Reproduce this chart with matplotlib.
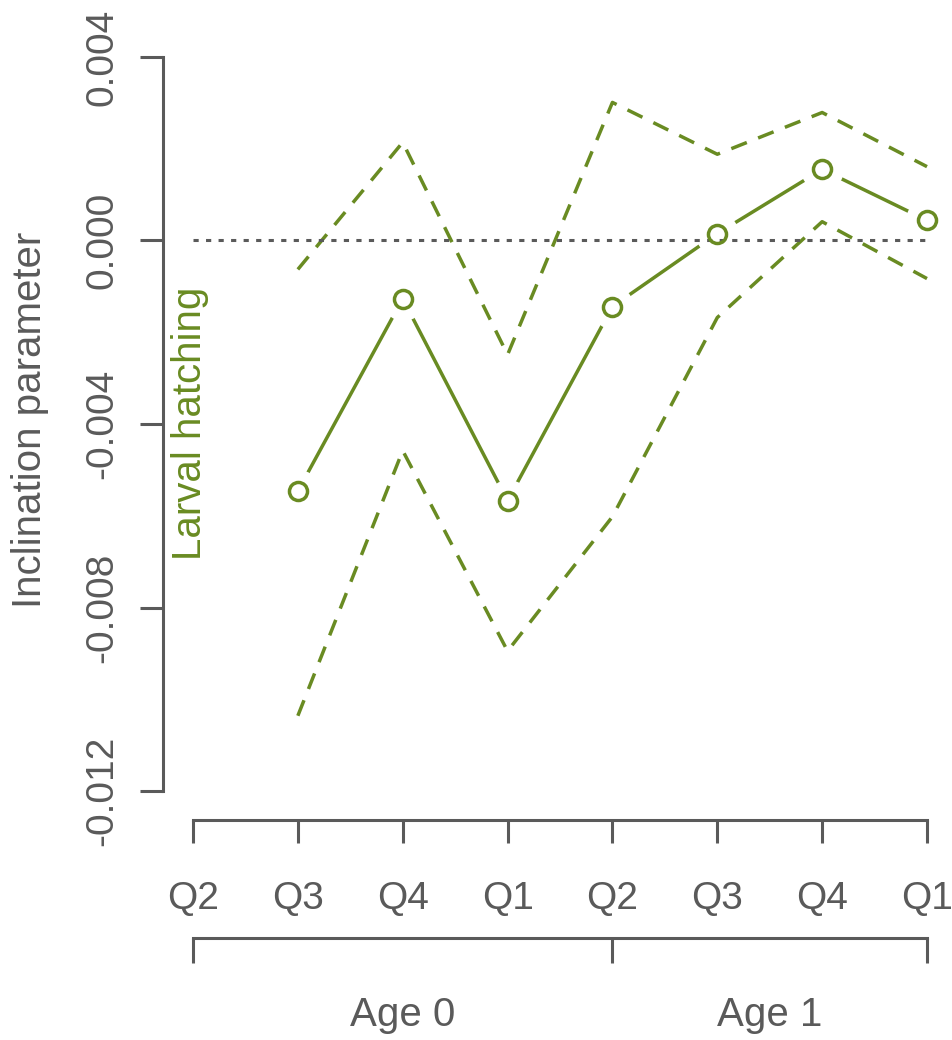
import numpy as np
import matplotlib
matplotlib.use("Agg")
import matplotlib.pyplot as plt

# quarters along the x axis
quarters = ["Q2", "Q3", "Q4", "Q1", "Q2", "Q3", "Q4", "Q1"]
ages = ["Age 0", "Age 1"]

# estimated inclination parameter (starts at the 2nd quarter) with its bounds
est = [-0.00546, -0.00127, -0.00567, -0.00144, 0.00015, 0.00155, 0.00044]
upper = [-0.00063, 0.00214, -0.00249, 0.00301, 0.00188, 0.00279, 0.00161]
lower = [-0.01036, -0.00458, -0.00895, -0.00602, -0.00168, 0.00041, -0.00083]

green = "#698B22"
grey = "#5a5a5a"
plt.rcParams["font.family"] = ["Liberation Sans", "DejaVu Sans"]
fs = 28
fs_lab = 29

W, H = 952, 1040
fig = plt.figure(figsize=(W / 100, H / 100), dpi=100)
ax = fig.add_axes([193 / W, 1 - 791 / H, (927 - 193) / W, (791 - 57) / H])

xq = np.arange(1, len(quarters) + 1)
xs = xq[1:]

# solid line with gaps round the points (R type="b")
ax.plot(xs, est, color=green, lw=2.5, zorder=2, clip_on=False)
ax.plot(xs, est, ls="none", marker="o", ms=31, mfc="white", mec="none",
        zorder=2.5, clip_on=False)
ax.plot(xs, upper, color=green, lw=2.5, ls=(0, (4.8, 3.5)), zorder=3, clip_on=False)
ax.plot(xs, lower, color=green, lw=2.5, ls=(0, (4.8, 3.5)), zorder=3, clip_on=False)
ax.hlines(0, xq[0], xq[-1], color=grey, lw=2.2, linestyles=(0, (1.7, 2.4)), zorder=3)
ax.plot(xs, est, ls="none", marker="o", ms=13, mfc="none", mec=green, mew=2.5,
        zorder=4, clip_on=False)

ax.set_xlim(1, 8)
ax.set_ylim(-0.012, 0.004)
for s in ["top", "right"]:
    ax.spines[s].set_visible(False)
ax.spines["left"].set_position(("outward", 21.6))
ax.spines["bottom"].set_position(("outward", 20.9))
for s in ["left", "bottom"]:
    ax.spines[s].set_color(grey)
    ax.spines[s].set_linewidth(2.2)

yt = [-0.012, -0.008, -0.004, 0.000, 0.004]
ax.set_yticks(yt)
ax.set_yticklabels(["%.3f" % v for v in yt], rotation=90, va="center")
ax.set_xticks(xq)
ax.set_xticklabels(quarters)
ax.tick_params(axis="both", length=16.6, width=2.2, color=grey, labelcolor=grey,
               labelsize=fs)
ax.tick_params(axis="y", pad=14)
ax.tick_params(axis="x", pad=27)

# age bracket under the quarter labels
sec = ax.secondary_xaxis((791 - 938) / (791 - 57))
sec.set_xticks([1, 5, 8])
sec.set_xticklabels(["", "", ""])
sec.set_xticks([3, 6.5], minor=True)
sec.set_xticklabels(ages, minor=True)
sec.tick_params(axis="x", which="major", length=18, width=2.2, color=grey)
sec.tick_params(axis="x", which="minor", length=0, pad=42, labelsize=fs_lab,
                labelcolor=grey)
sec.spines["bottom"].set_color(grey)
sec.spines["bottom"].set_linewidth(2.2)

fig.text(30 / W, 1 - 420 / H, "Inclination parameter", rotation=90, ha="center",
         va="center", color=grey, fontsize=fs_lab)
fig.text(190 / W, 1 - 423 / H, "Larval hatching", rotation=90, ha="center",
         va="center", color=green, fontsize=fs_lab)

fig.savefig("out.png", dpi=100, facecolor="white")
